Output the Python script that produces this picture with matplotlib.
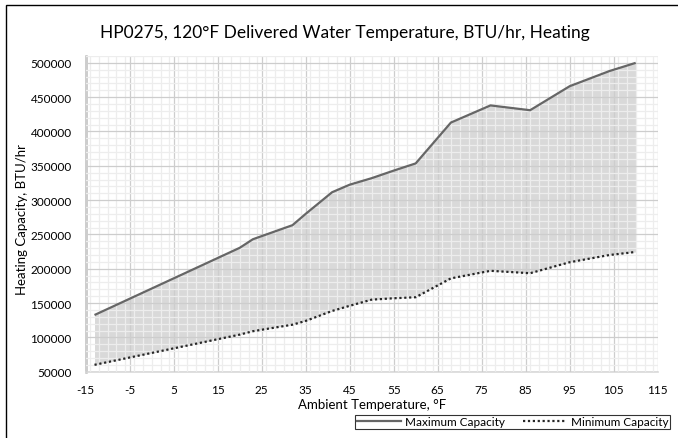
import matplotlib
matplotlib.use("Agg")
import matplotlib.pyplot as plt
from matplotlib.ticker import MultipleLocator
from matplotlib.patches import Rectangle
from matplotlib.lines import Line2D

plt.rcParams['font.family'] = ['Lato', 'DejaVu Sans']
plt.rcParams['axes.unicode_minus'] = False

temps = [-13, 20, 23, 32, 35, 41, 45, 50, 55, 60, 68, 77, 86, 95, 104, 110]
max_capacity = [132600, 230500, 243000, 263500, 280000, 311500, 322500, 332000,
                343000, 353500, 413000, 438000, 431000, 466000, 488000, 500000]
min_capacity = [60000, 104000, 109000, 118500, 124000, 138500, 146000, 155000,
                157000, 158500, 186000, 197000, 193500, 209500, 220000, 224500]
x_ticks = [-15, -5, 5, 15, 25, 35, 45, 55, 65, 75, 85, 95, 105, 115]
y_ticks = [50000, 100000, 150000, 200000, 250000, 300000, 350000, 400000, 450000, 500000]

W, H = 678, 439
fig = plt.figure(figsize=(W / 100, H / 100), dpi=100)
ax = fig.add_axes([85.7 / W, 1 - 372.7 / H, (657.7 - 85.7) / W, (372.7 - 57.0) / H])

ax.fill_between(temps, min_capacity, max_capacity, color='#d9d9d9', lw=0, zorder=1)
ax.plot(temps, max_capacity, color='#666666', lw=1.6, zorder=3, solid_capstyle='butt')
ax.plot(temps, min_capacity, color='#262626', lw=1.6, ls=(0, (1, 1.2)), zorder=3)

ax.set_xlim(-15, 115)
ax.set_ylim(50000, 510000)
ax.set_xticks(x_ticks)
ax.set_yticks(y_ticks)
ax.xaxis.set_minor_locator(MultipleLocator(2))
ax.yaxis.set_minor_locator(MultipleLocator(10000))
ax.set_axisbelow(False)
ax.grid(which='major', color='#cdcdcd', lw=0.9, zorder=2)
ax.grid(which='minor', color='#ededed', lw=0.9, zorder=2)
ax.tick_params(which='both', length=0, labelsize=8.5, colors='#000000')
ax.tick_params(axis='x', pad=9)
ax.tick_params(axis='y', pad=10)

for s in ['top', 'right']:
    ax.spines[s].set_visible(False)
ax.spines['left'].set_color('#bfbfbf')
ax.spines['left'].set_linewidth(1.8)
ax.spines['bottom'].set_color('#d9d9d9')
ax.spines['bottom'].set_linewidth(1.2)

ax.set_xlabel('Ambient Temperature, °F', fontsize=9.5, labelpad=2)
ax.set_ylabel('Heating Capacity, BTU/hr', fontsize=9.5, labelpad=0)
ax.yaxis.set_label_coords(22 / W, 0.5, transform=fig.transFigure)
ax.yaxis.label.set_va('center')

fig.text(345 / W, 1 - 33 / H, 'HP0275, 120°F Delivered Water Temperature, BTU/hr, Heating',
         ha='center', va='center', fontsize=12.5)

# outer chart border
fig.add_artist(Rectangle((5.5 / W, -0.1), 1.2, 1 - 5.5 / H + 0.1, transform=fig.transFigure,
                         fill=False, ec='#000000', lw=1.0))

handles = [Line2D([], [], color='#666666', lw=1.6),
           Line2D([], [], color='#262626', lw=1.6, ls=(0, (1, 1.2)))]
leg = fig.legend(handles, ['Maximum Capacity', 'Minimum Capacity'], ncol=2,
                 loc='center', bbox_to_anchor=(512.5 / W, 1 - 423 / H),
                 fontsize=8.5, frameon=True, fancybox=False, edgecolor='#000000',
                 handlelength=3.8, handletextpad=0.3, columnspacing=1.5,
                 borderpad=0.15, borderaxespad=0)
leg.get_frame().set_linewidth(0.8)

fig.savefig('out.png', dpi=100)
